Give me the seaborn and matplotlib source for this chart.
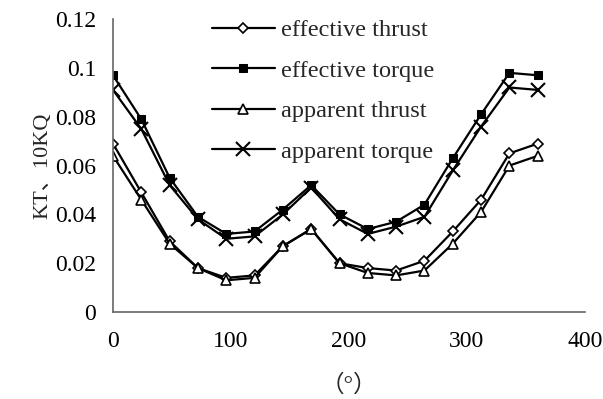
import numpy as np
import pandas as pd
import matplotlib
matplotlib.use("Agg")
import matplotlib.pyplot as plt
import seaborn as sns

angles = [0, 24, 48, 72, 96, 120, 144, 168, 192, 216, 240, 264, 288, 312, 336, 360]
effective_thrust = [0.069, 0.049, 0.029, 0.018, 0.014, 0.015, 0.027, 0.034, 0.020, 0.018, 0.017, 0.021, 0.033, 0.046, 0.065, 0.069]
effective_torque = [0.097, 0.079, 0.055, 0.039, 0.032, 0.033, 0.042, 0.052, 0.040, 0.034, 0.037, 0.044, 0.063, 0.081, 0.098, 0.097]
apparent_thrust = [0.064, 0.046, 0.028, 0.018, 0.013, 0.014, 0.027, 0.034, 0.020, 0.016, 0.015, 0.017, 0.028, 0.041, 0.060, 0.064]
apparent_torque = [0.091, 0.075, 0.052, 0.038, 0.030, 0.031, 0.040, 0.051, 0.038, 0.032, 0.035, 0.039, 0.058, 0.076, 0.092, 0.091]
series_names = ["effective thrust", "effective torque", "apparent thrust", "apparent torque"]
x_ticks = [0, 100, 200, 300, 400]
y_ticks = [0, 0.02, 0.04, 0.06, 0.08, 0.1, 0.12]
y_tick_labels = ["0", "0.02", "0.04", "0.06", "0.08", "0.1", "0.12"]

sns.set_style("white")
plt.rcParams['font.family'] = ['Liberation Serif', 'Noto Sans CJK SC', 'DejaVu Sans']

fig = plt.figure(figsize=(6.03, 3.99), dpi=100)
ax = fig.add_axes([0.1874, 0.218, 0.7826, 0.734])

styles = [
    dict(marker='D', markersize=5, markerfacecolor='white', markeredgecolor='black', markeredgewidth=1.2),
    dict(marker='s', markersize=6, markerfacecolor='black', markeredgecolor='black'),
    dict(marker='^', markersize=7.5, markerfacecolor='white', markeredgecolor='black', markeredgewidth=1.2),
    dict(marker='x', markersize=10, markeredgecolor='black', markeredgewidth=1.5),
]
for name, vals, st in zip(series_names, [effective_thrust, effective_torque, apparent_thrust, apparent_torque], styles):
    df = pd.DataFrame({"angle": angles, "value": vals})
    sns.lineplot(data=df, x="angle", y="value", ax=ax, color='black', linewidth=1.6, label=name, **st)

ax.set_xlim(0, 400)
ax.set_ylim(0, 0.12)
ax.set_xticks(x_ticks)
ax.set_xticklabels([str(t) for t in x_ticks])
ax.set_yticks(y_ticks)
ax.set_yticklabels(y_tick_labels)
ax.tick_params(axis='both', direction='in', length=5, width=1, colors='#555555', labelcolor='black', labelsize=17)
ax.tick_params(axis='y', pad=12)
ax.tick_params(axis='x', pad=14)
for s in ['top', 'right']:
    ax.spines[s].set_visible(False)
for s in ['left', 'bottom']:
    ax.spines[s].set_color('#666666')
    ax.spines[s].set_linewidth(1.2)

ax.set_xlabel("（°）", fontsize=17, labelpad=16)
ax.set_ylabel("KT、10KQ", fontsize=16, labelpad=2)

leg = ax.legend(loc='upper left', bbox_to_anchor=(0.163, 1.075), frameon=False, fontsize=17.5,
                handlelength=2.6, labelspacing=0.76, handletextpad=0.25)

fig.savefig("out.png", dpi=100)
